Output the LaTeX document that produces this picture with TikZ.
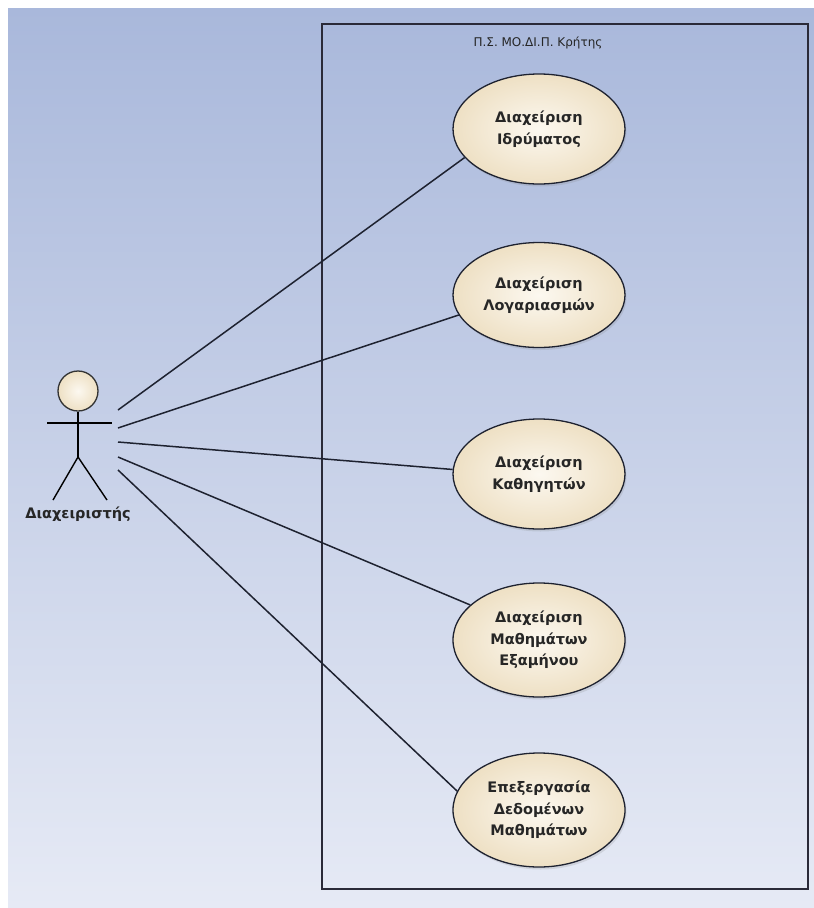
\documentclass[tikz,border=0pt]{standalone}
\usepackage{fontspec}
\setmainfont{DejaVu Sans}
\usetikzlibrary{shapes.geometric,shadows}
\definecolor{bgtop}{HTML}{A9B8DB}
\definecolor{bgbot}{HTML}{E6EAF5}
\definecolor{framec}{HTML}{2A2A38}
\definecolor{ucin}{HTML}{FCF8F0}
\definecolor{ucout}{HTML}{EEE0C4}
\definecolor{linec}{HTML}{1E2230}
\tikzset{
  usecase/.style={ellipse, draw=linec, line width=1.3pt, inner color=ucin, outer color=ucout,
    minimum width=172pt, minimum height=110pt, inner sep=0pt, align=center,
    font=\bfseries\fontsize{14.5}{21.5}\selectfont, text=black!85,
    drop shadow={opacity=0.2, shadow xshift=1.5pt, shadow yshift=-2.5pt}},
  assoc/.style={draw=linec, line width=1.5pt},
  stick/.style={draw=black, line width=1.4pt}
}
\begin{document}
\begin{tikzpicture}[x=1pt,y=-1pt]
\useasboundingbox (0,0) rectangle (814,908);
\fill[white] (0,0) rectangle (814,908);
\shade[top color=bgtop, bottom color=bgbot] (8,8) rectangle (814,908);
% system boundary
\draw[draw=framec, line width=1.5pt] (322,24) rectangle (808,889);
\node[font=\fontsize{12}{14}\selectfont, text=black!85] (title) at (538,43) {Π.Σ. ΜΟ.ΔΙ.Π. Κρήτης};
% use cases
\node[usecase] (u1) at (539,129) {Διαχείριση\\Ιδρύματος};
\node[usecase, minimum height=105pt] (u2) at (539,295) {Διαχείριση\\Λογαριασμών};
\node[usecase] (u3) at (539,474) {Διαχείριση\\Καθηγητών};
\node[usecase, minimum height=114pt] (u4) at (539,640) {Διαχείριση\\Μαθημάτων\\Εξαμήνου};
\node[usecase, minimum height=114pt] (u5) at (539,810) {Επεξεργασία\\Δεδομένων\\Μαθημάτων};
% actor
\node[circle, draw=black!80, line width=1.3pt, inner color=ucin, outer color=ucout, minimum size=40pt, inner sep=0pt] (head) at (78,391) {};
\coordinate (hip) at (78,457);
\coordinate (armL) at (47,423);
\coordinate (armR) at (112,423);
\coordinate (legL) at (53,500);
\coordinate (legR) at (107,500);
\draw[stick] (head.south) -- (hip);
\draw[stick] (armL) -- (armR);
\draw[stick] (legL) -- (hip) -- (legR);
\node[font=\bfseries\fontsize{14.5}{16}\selectfont, text=black!85] (actor) at (78,514) {Διαχειριστής};
% associations
\coordinate (a1) at (118,410);
\coordinate (a2) at (118,428);
\coordinate (a3) at (118,442);
\coordinate (a4) at (118,457);
\coordinate (a5) at (118,470);
\draw[assoc] (a1) -- (u1.201);
\draw[assoc] (a2) -- (u2.194);
\draw[assoc] (a3) -- (u3.177);
\draw[assoc] (a4) -- (u4.153);
\draw[assoc] (a5) -- (u5.167);
\end{tikzpicture}
\end{document}
